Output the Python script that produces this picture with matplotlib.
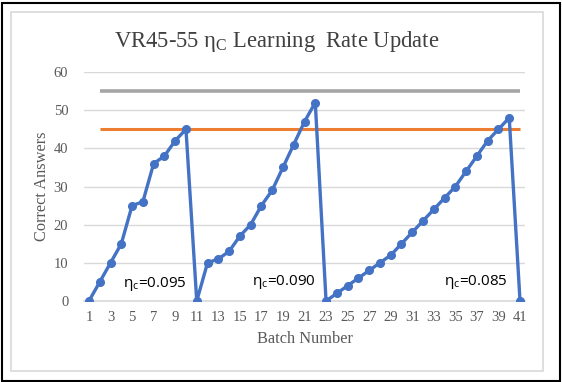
import matplotlib
matplotlib.use("Agg")
import matplotlib.pyplot as plt
import matplotlib.patches as mpatches

# batch numbers and correct answers
batches = list(range(1, 42))
correct = [0, 5, 10, 15, 25, 26, 36, 38, 42, 45,
           0, 10, 11, 13, 17, 20, 25, 29, 35, 41, 47, 52,
           0, 2, 4, 6, 8, 10, 12, 15, 18, 21, 24, 27, 30, 34, 38, 42, 45, 48,
           0]
# reference lines (start at batch 2)
line_batches = list(range(2, 42))
upper_ref = [55] * len(line_batches)
lower_ref = [45] * len(line_batches)

# learning rate labels: (x, y, text)
eta_labels = [(4.2, 2.2, "0.095"), (16.1, 2.6, "0.090"), (33.9, 2.6, "0.085")]

blue = "#4472C4"
orange = "#ED7D31"
gray = "#A5A5A5"
txt = "#595959"
serif = "Liberation Serif"

fig = plt.figure(figsize=(5.62, 3.82), dpi=100)
W, H = 562, 382

# outer black frame and inner light chart frame
fig.patches.append(mpatches.Rectangle((1.5 / W, 1.5 / H), 558 / W, 378 / H, transform=fig.transFigure,
                                      fill=False, edgecolor="black", linewidth=1.5))
fig.patches.append(mpatches.Rectangle((11 / W, (H - 371) / H), 532 / W, 359 / H, transform=fig.transFigure,
                                      fill=False, edgecolor="#D9D9D9", linewidth=1.2))

ax = fig.add_axes([83.6 / W, (H - 301) / H, (525.4 - 83.6) / W, (301 - 72) / H])

ax.plot(line_batches, upper_ref, color=gray, linewidth=2.6, solid_capstyle="butt", zorder=2)
ax.plot(line_batches, lower_ref, color=orange, linewidth=2.2, solid_capstyle="butt", zorder=2)
ax.plot(batches, correct, color=blue, linewidth=2.4, marker="o", markersize=5.5, zorder=3)

for x, y, val in eta_labels:
    ax.text(x, y, r"η$_{\mathregular{c}}$=" + val, fontsize=11, color="black",
            family="Open Sans", ha="left", va="bottom", zorder=4)

ax.set_xlim(0.5, 41.5)
ax.set_ylim(0, 60)
ax.set_xticks(batches[::2])
ax.set_yticks(range(0, 61, 10))
ax.tick_params(length=0, labelsize=10.5, labelcolor=txt)
ax.tick_params(axis="y", pad=11)
ax.tick_params(axis="x", pad=7)
for lab in ax.get_xticklabels() + ax.get_yticklabels():
    lab.set_family(serif)

ax.grid(True, axis="y", color="#D9D9D9", linewidth=1)
ax.set_axisbelow(True)
for s in ["top", "right", "left"]:
    ax.spines[s].set_visible(False)
ax.spines["bottom"].set_color("#D9D9D9")
ax.spines["bottom"].set_linewidth(1.2)

ax.set_xlabel("Batch Number", family=serif, fontsize=11.8, color=txt, labelpad=5)
ax.set_ylabel("Correct Answers", family=serif, fontsize=11.8, color=txt, labelpad=3)

fig.text(277 / W, (H - 47) / H, r"VR45-55 η$_{\mathregular{C}}$ Learning  Rate Update", family=serif,
         fontsize=16.3, color="#404040", ha="center", va="baseline")

fig.savefig("out.png", dpi=100)
